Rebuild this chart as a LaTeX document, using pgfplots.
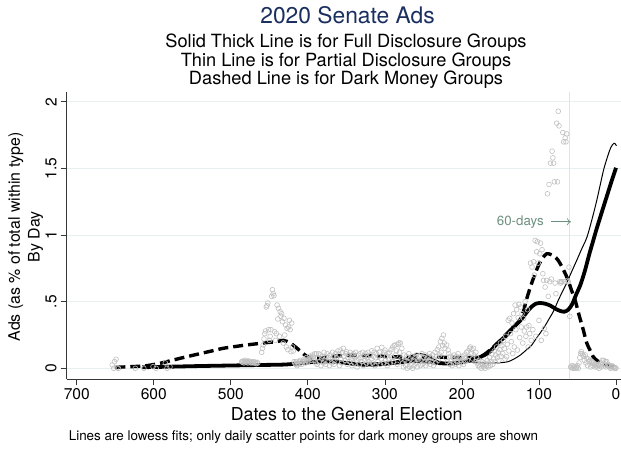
\documentclass[border=0pt]{standalone}
\usepackage{pgfplots}
\pgfplotsset{compat=1.18}
\usepackage{pgfplotstable}
\usetikzlibrary{arrows.meta}
\usepackage{fontspec}
\setmainfont{TeX Gyre Heros}

\definecolor{titleblue}{RGB}{26,46,96}
\definecolor{scattergray}{RGB}{192,192,192}
\definecolor{gridpale}{RGB}{231,239,241}
\definecolor{refline}{RGB}{220,228,228}
\definecolor{notegreen}{RGB}{108,144,126}
\definecolor{axisgray}{RGB}{55,55,55}

% Daily share of dark money ads (days before the election, percent)
\pgfplotstableread{
d v
654 0.025
652 0.0
651 0.05
649 0.068
648 0.005
646 0.0
624 0.0
613 0.0
601 0.012
597 0.0
585 0.04
583 0.0
579 0.012
486 0.05
485 0.045
484 0.055
483 0.04
482 0.05
481 0.06
480 0.045
479 0.05
478 0.04
477 0.055
476 0.05
475 0.045
474 0.04
473 0.05
472 0.045
471 0.04
470 0.05
469 0.045
468 0.04
467 0.035
466 0.045
465 0.04
460 0.12
459 0.15
458 0.175
457 0.22
456 0.26
455 0.28
454 0.46
453 0.47
452 0.49
451 0.29
450 0.21
449 0.24
448 0.29
447 0.54
446 0.59
445 0.56
444 0.545
443 0.275
442 0.21
441 0.26
440 0.475
439 0.37
438 0.45
437 0.24
436 0.425
435 0.39
434 0.41
433 0.35
432 0.19
431 0.375
430 0.25
429 0.325
428 0.16
427 0.30
426 0.14
425 0.31
424 0.36
423 0.29
422 0.125
421 0.34
420 0.16
419 0.13
418 0.05
417 0.04
416 0.03
415 0.05
414 0.02
413 0.04
412 0.03
411 0.05
410 0.06
409 0.04
408 0.03
407 0.05
406 0.05
405 0.07
404 0.06
403 0.04
402 0.08
401 0.06
400 0.05
399 0.07
398 0.09
397 0.075
396 0.06
395 0.08
394 0.1
393 0.09
392 0.06
391 0.11
390 0.04
389 0.107
388 0.03
387 0.08
386 0.11
385 0.05
384 0.10
383 0.02
382 0.07
381 0.09
380 0.04
379 0.12
378 0.06
377 0.03
376 0.09
375 0.11
374 0.05
373 0.08
372 0.02
371 0.10
370 0.07
369 0.04
368 0.12
367 0.09
366 0.03
365 0.06
364 0.11
363 0.08
362 0.05
361 0.13
360 0.10
359 0.02
358 0.137
357 0.07
356 0.04
355 0.12
354 0.15
353 0.09
352 0.06
351 0.11
350 0.125
349 0.03
348 0.08
347 0.10
346 0.05
345 0.12
344 0.07
343 0.02
342 0.09
341 0.11
340 0.04
339 0.08
338 0.12
337 0.06
336 0.01
335 0.10
334 0.07
333 0.03
332 0.11
331 0.08
330 0.05
329 0.12
328 0.02
327 0.09
326 0.06
325 0.11
324 0.04
323 0.08
322 0.12
321 0.05
320 0.03
319 0.10
318 0.07
317 0.132
316 0.04
315 0.09
314 0.12
313 0.02
312 0.08
311 0.11
310 0.15
309 0.05
308 0.09
307 0.12
306 0.03
305 0.07
304 0.157
303 0.10
302 0.04
301 0.12
300 0.137
299 0.06
298 0.09
297 0.02
296 0.11
295 0.07
294 0.12
293 0.04
292 0.14
291 0.08
290 0.16
289 0.05
288 0.17
287 0.175
286 0.10
285 0.13
284 0.03
283 0.18
282 0.19
281 0.12
280 0.19
279 0.07
278 0.15
277 0.04
276 0.01
275 0.10
274 0.06
273 0.02
272 0.09
271 0.00
270 0.05
269 0.11
268 0.01
267 0.07
266 0.03
265 0.09
264 0.00
263 0.06
262 0.02
261 0.08
260 0.04
259 0.10
258 0.01
257 0.07
256 0.05
255 0.09
254 0.02
253 0.06
252 0.11
251 0.03
250 0.08
249 0.05
248 0.10
247 0.02
246 0.07
245 0.04
244 0.09
243 0.06
242 0.11
241 0.03
240 0.08
239 0.05
238 0.10
237 0.02
236 0.07
235 0.12
234 0.04
233 0.09
232 0.14
231 0.06
230 0.16
229 0.10
228 0.20
227 0.12
226 0.225
225 0.17
224 0.25
223 0.19
222 0.15
221 0.08
220 0.175
219 0.05
218 0.137
217 0.11
216 0.03
215 0.09
214 0.06
213 0.02
212 0.08
211 0.04
210 0.10
209 0.07
208 0.03
207 0.09
206 0.05
205 0.11
204 0.02
203 0.08
202 0.06
201 0.04
200 0.09
199 0.07
198 0.03
197 0.10
196 0.05
195 0.08
194 0.12
193 0.06
192 0.13
191 0.09
190 0.15
189 0.16
188 0.11
187 0.14
186 0.07
185 0.15
184 0.10
183 0.05
182 0.12
181 0.08
180 0.04
179 0.02
178 0.06
177 0.01
176 0.03
175 0.00
174 0.05
173 0.02
172 0.01
171 0.04
170 0.00
169 0.03
168 0.02
167 0.06
166 0.01
165 0.04
164 0.08
163 0.02
162 0.05
161 0.11
160 0.03
159 0.07
158 0.13
157 0.05
156 0.10
155 0.16
154 0.08
153 0.12
152 0.06
151 0.14
150 0.19
149 0.09
148 0.17
147 0.11
146 0.21
145 0.15
144 0.07
143 0.24
142 0.087
141 0.18
140 0.36
139 0.13
138 0.375
137 0.26
136 0.20
135 0.34
134 0.11
133 0.41
132 0.16
131 0.475
130 0.29
129 0.44
128 0.137
127 0.38
126 0.48
125 0.23
124 0.46
123 0.31
122 0.41
121 0.19
120 0.375
119 0.28
118 0.50
117 0.24
116 0.31
115 0.44
114 0.16
113 0.32
112 0.26
111 0.79
110 0.21
109 0.76
108 0.29
107 0.80
106 0.70
105 0.96
104 0.24
103 0.875
102 0.95
101 0.79
100 0.36
99 0.86
98 0.94
97 0.21
96 0.89
95 0.71
94 0.66
93 0.30
92 0.61
91 0.26
90 0.66
89 1.31
88 0.54
87 1.38
86 0.65
85 1.54
84 0.67
83 1.63
82 1.58
81 1.54
80 1.40
79 0.64
78 0.56
77 1.84
76 1.40
75 1.93
74 1.82
73 0.65
72 0.64
71 0.65
70 0.65
69 1.77
68 1.70
67 0.65
66 1.73
65 1.70
64 1.76
63 0.66
62 0.65
61 0.76
60 0.39
59 0.01
58 0.005
57 0.02
56 0.0
55 0.01
54 0.015
53 0.0
52 0.01
51 0.005
50 0.02
49 0.0
48 0.04
47 0.08
46 0.11
45 0.125
44 0.11
43 0.10
42 0.09
41 0.06
40 0.10
39 0.04
38 0.075
37 0.02
36 0.07
35 0.05
34 0.06
33 0.01
32 0.04
31 0.05
30 0.02
29 0.04
28 0.03
27 0.01
26 0.03
25 0.02
24 0.01
23 0.03
22 0.00
21 0.02
20 0.04
19 0.01
18 0.06
17 0.03
16 0.06
15 0.02
14 0.05
13 0.01
12 0.05
11 0.02
10 0.03
9 0.01
8 0.02
7 0.00
6 0.01
5 0.02
4 0.01
3 0.01
2 0.00
1 0.005
0 0.0
}\darkdaily

% Lowess fit, full disclosure groups
\pgfplotstableread{
d v
615 0.008
580 0.012
540 0.017
500 0.021
460 0.025
436 0.027
425 0.030
410 0.038
395 0.047
380 0.052
365 0.050
350 0.040
335 0.030
320 0.026
300 0.034
280 0.046
260 0.056
245 0.050
228 0.038
215 0.036
200 0.046
190 0.058
176 0.085
165 0.12
155 0.18
142 0.25
133 0.31
124 0.36
116 0.42
110 0.46
104 0.485
98 0.49
92 0.485
85 0.47
78 0.445
72 0.43
67 0.425
62 0.44
57 0.48
52 0.55
46 0.63
40 0.74
35 0.85
30 0.95
25 1.05
18 1.18
12 1.29
6 1.40
0 1.505
}\fullfit

% Lowess fit, partial disclosure groups
\pgfplotstableread{
d v
615 0.012
580 0.015
540 0.019
500 0.022
460 0.026
430 0.030
410 0.040
390 0.050
370 0.050
350 0.045
330 0.040
310 0.040
290 0.050
275 0.070
267 0.092
259 0.110
252 0.108
246 0.100
237 0.070
226 0.045
215 0.037
200 0.042
192 0.048
180 0.045
168 0.038
150 0.042
140 0.050
133 0.068
124 0.100
116 0.140
110 0.170
104 0.220
99 0.260
92 0.320
86 0.380
81 0.430
75 0.510
70 0.570
64 0.640
58 0.720
51 0.810
45 0.890
38 0.980
32 1.100
25 1.260
16.5 1.480
12 1.570
8 1.640
5 1.675
2.6 1.690
1 1.685
-0.5 1.670
}\partialfit

% Lowess fit, dark money groups
\pgfplotstableread{
d v
650 0.008
630 0.012
609 0.020
590 0.040
575 0.062
555 0.090
540 0.110
525 0.130
510 0.150
495 0.163
480 0.175
465 0.185
450 0.195
440 0.200
432 0.210
423 0.190
414 0.150
405 0.105
398 0.080
390 0.075
380 0.080
370 0.090
355 0.095
340 0.097
320 0.095
300 0.090
280 0.085
260 0.083
240 0.083
220 0.083
200 0.080
190 0.080
176 0.087
165 0.130
150 0.210
140 0.270
129 0.330
124 0.370
120 0.430
116 0.520
110 0.630
105 0.710
100 0.780
95 0.830
90 0.860
85 0.855
80 0.840
75 0.810
70 0.760
65 0.700
62 0.660
58 0.590
53 0.510
48 0.400
43 0.300
38 0.190
34 0.140
30 0.090
25 0.060
18 0.035
12 0.025
6 0.012
0 0.005
}\darkfit

\begin{document}
\begin{tikzpicture}[x=1pt,y=1pt]
\useasboundingbox (0,0) rectangle (621,448);

% titles
\node[text=titleblue, font=\fontsize{22.8}{26}\selectfont] at (347.5,433) {2020 Senate Ads};
\node[font=\fontsize{18.2}{20}\selectfont] at (346,405) {Solid Thick Line is for Full Disclosure Groups};
\node[font=\fontsize{18.2}{20}\selectfont] at (346,386.3) {Thin Line is for Partial Disclosure Groups};
\node[font=\fontsize{18.2}{20}\selectfont] at (346,368.3) {Dashed Line is for Dark Money Groups};

% axis titles and note
\node[rotate=90, anchor=base, inner sep=0pt, font=\fontsize{15.9}{18}\selectfont] at (20,211) {Ads (as \% of total within type)};
\node[rotate=90, anchor=base, inner sep=0pt, font=\fontsize{15.9}{18}\selectfont] at (39.5,211) {By Day};
\node[font=\fontsize{17.8}{20}\selectfont] at (346.7,34) {Dates to the General Election};
\node[font=\fontsize{13.4}{15}\selectfont] at (303.5,11) {Lines are lowess fits; only daily scatter points for dark money groups are shown};

\begin{axis}[
  at={(66.7pt,68.7pt)}, anchor=south west,
  scale only axis, width=554.3pt, height=287.3pt,
  xmin=-713.1, xmax=6.5, ymin=-0.0826, ymax=2.0743,
  axis x line*=bottom, axis y line*=left,
  axis line style={axisgray, line width=0.8pt},
  xtick={-700,-600,-500,-400,-300,-200,-100,0},
  xticklabels={700,600,500,400,300,200,100,0},
  ytick={0,0.5,1,1.5,2},
  yticklabels={0,.5,1,1.5,2},
  tick align=outside, major tick length=6pt,
  tick style={axisgray, line width=0.8pt},
  ymajorgrids, grid style={gridpale, line width=0.9pt},
  ticklabel style={font=\fontsize{15.6}{18}\selectfont},
  yticklabel style={rotate=90, anchor=south},
  yticklabel shift=0.5pt,
]
% 60 days before the election
\addplot[refline, line width=0.9pt] coordinates {(-60,-0.0826) (-60,2.0743)};

\addplot[only marks, mark=o, mark size=2.4pt,
  mark options={scattergray, line width=0.6pt}]
  table[x expr=-\thisrow{d}, y=v] {\darkdaily};

\addplot[black, line width=1pt, smooth, line join=round] table[x expr=-\thisrow{d}, y=v] {\partialfit};
\addplot[black, line width=3.8pt, smooth, line join=round] table[x expr=-\thisrow{d}, y=v] {\fullfit};
\addplot[black, line width=3.4pt, smooth, dash pattern=on 10pt off 5pt] table[x expr=-\thisrow{d}, y=v] {\darkfit};

\node[anchor=east, text=notegreen, font=\fontsize{13.3}{15}\selectfont, inner sep=0pt] at (axis cs:-93.5,1.10) {60-days};
\draw[notegreen, line width=0.7pt, -{To[length=4pt,width=7pt]}] (axis cs:-84,1.10) -- (axis cs:-58.5,1.10);
\end{axis}
\end{tikzpicture}
\end{document}
